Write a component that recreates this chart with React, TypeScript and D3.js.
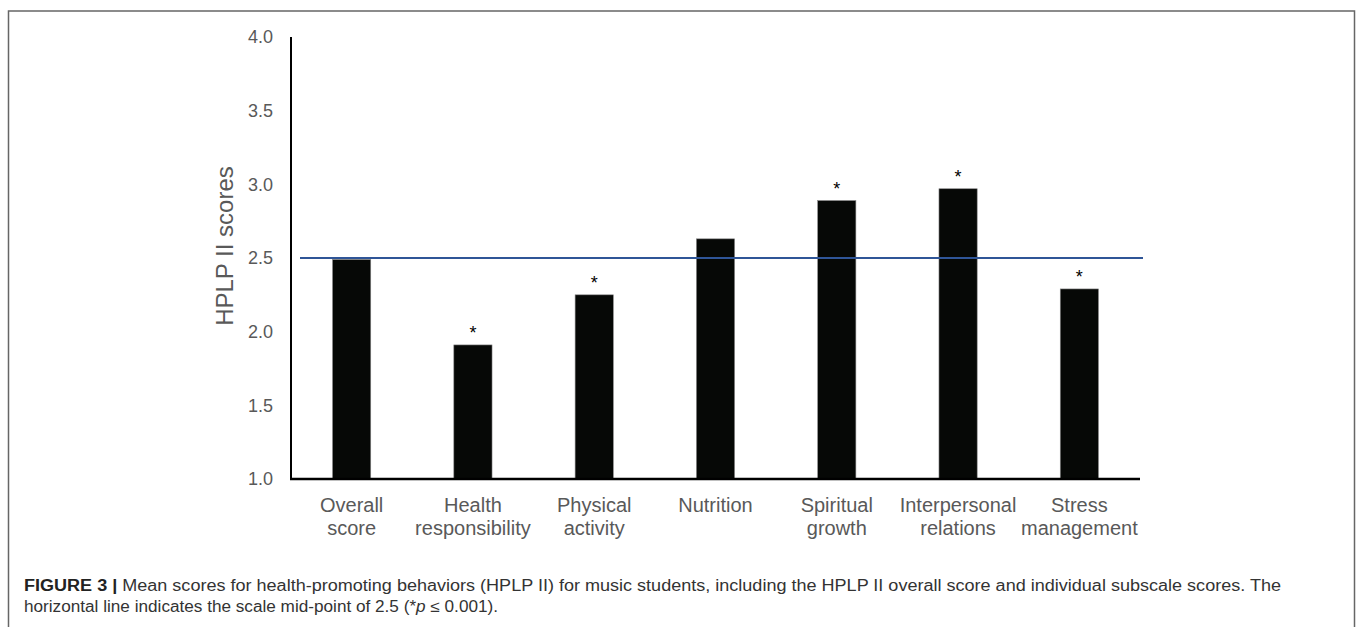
import React from 'react';
import * as d3 from 'd3';

const categories = ['Overall score', 'Health responsibility', 'Physical activity', 'Nutrition', 'Spiritual growth', 'Interpersonal relations', 'Stress management'];
const labelLines = [['Overall', 'score'], ['Health', 'responsibility'], ['Physical', 'activity'], ['Nutrition'], ['Spiritual', 'growth'], ['Interpersonal', 'relations'], ['Stress', 'management']];
const scores = [2.49, 1.91, 2.25, 2.63, 2.89, 2.97, 2.29];
const significant = [false, true, true, false, true, true, true];
const yTicks = [1.0, 1.5, 2.0, 2.5, 3.0, 3.5, 4.0];
const midPoint = 2.5;

const W = 1357;
const H = 627;
const margin = { left: 291, right: 217, top: 37, bottom: 148 };

const App: React.FC = () => {
    const x = d3.scaleBand<string>()
        .domain(categories)
        .range([margin.left, W - margin.right])
        .paddingInner(0.685)
        .paddingOuter(0.3425);
    const y = d3.scaleLinear()
        .domain([1, 4])
        .range([H - margin.bottom, margin.top]);

    const font = 'Liberation Sans, Arial, sans-serif';

    return (
        <svg width={W} height={H} style={{ position: 'absolute', left: 0, top: 0 }}>
            <rect x={0} y={0} width={W} height={H} fill="#fff" />
            {/* figure frame */}
            <rect x={8.5} y={11} width={1346} height={640} fill="none" stroke="#666" strokeWidth={1.5} />

            {/* bars */}
            {scores.map((v, i) => (
                <rect key={categories[i]}
                    x={x(categories[i])}
                    y={y(v)}
                    width={x.bandwidth()}
                    height={y(1) - y(v)}
                    fill="#060806"
                    stroke="#888"
                    strokeWidth={0.6} />
            ))}

            {/* asterisks */}
            {scores.map((v, i) => significant[i] ? (
                <text key={'s' + i}
                    x={(x(categories[i]) as number) + x.bandwidth() / 2}
                    y={y(v) - 6}
                    textAnchor="middle"
                    fontFamily={font}
                    fontSize={18}
                    fill="#000">*</text>
            ) : null)}

            {/* mid-point line */}
            <line x1={300} x2={1143} y1={y(midPoint)} y2={y(midPoint)} stroke="#2f5597" strokeWidth={2} />

            {/* axes */}
            <line x1={margin.left} x2={margin.left} y1={y(4)} y2={y(1) + 1} stroke="#000" strokeWidth={2} />
            <line x1={margin.left - 1} x2={W - margin.right} y1={y(1)} y2={y(1)} stroke="#000" strokeWidth={2.5} />

            {yTicks.map(t => (
                <text key={t} x={273} y={y(t)} dy="0.35em" textAnchor="end"
                    fontFamily={font} fontSize={18} fill="#595959">{t.toFixed(1)}</text>
            ))}

            {labelLines.map((lines, i) => (
                <text key={'c' + i}
                    x={(x(categories[i]) as number) + x.bandwidth() / 2}
                    y={512}
                    textAnchor="middle"
                    fontFamily={font}
                    fontSize={20}
                    fill="#595959">
                    {lines.map((l, j) => (
                        <tspan key={j} x={(x(categories[i]) as number) + x.bandwidth() / 2} dy={j === 0 ? 0 : 23}>{l}</tspan>
                    ))}
                </text>
            ))}

            <text transform={`translate(233,${(y(1) + y(4)) / 2 - 12}) rotate(-90)`}
                textAnchor="middle" fontFamily={font} fontSize={24} fill="#595959">HPLP II scores</text>

            {/* caption */}
            <text x={24} y={591} fontFamily={font} fontSize={16} fill="#333"
                textLength={1257} lengthAdjust="spacingAndGlyphs">
                <tspan fontWeight="bold" fill="#222">FIGURE 3 | </tspan>
                Mean scores for health-promoting behaviors (HPLP II) for music students, including the HPLP II overall score and individual subscale scores. The
            </text>
            <text x={24} y={612} fontFamily={font} fontSize={16} fill="#333"
                textLength={474} lengthAdjust="spacingAndGlyphs">
                horizontal line indicates the scale mid-point of 2.5 (*<tspan fontStyle="italic">p</tspan> ≤ 0.001).
            </text>
        </svg>
    );
};

export default App;
